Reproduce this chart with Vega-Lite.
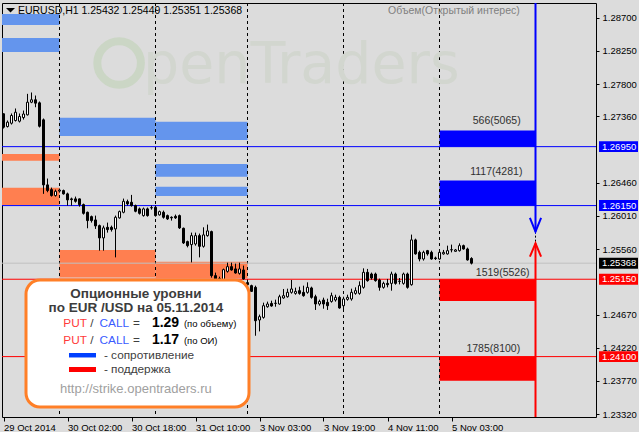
{
  "$schema": "https://vega.github.io/schema/vega-lite/v6.json",
  "width": 594,
  "height": 414,
  "autosize": {"type": "none"},
  "padding": {"left": 2, "top": 3, "right": 43, "bottom": 15},
  "background": "#dcdcdc",
  "config": {
    "view": {"stroke": "black", "strokeWidth": 1, "fill": "#dcdcdc"},
    "font": "Liberation Sans",
    "text": {"font": "Liberation Sans"}
  },
  "resolve": {"scale": {"color": "independent"}, "axis": {"x": "independent", "y": "independent"}},
  "datasets": {
    "candles": [
      {"i":0,"o":1.27396,"h":1.274,"l":1.27196,"c":1.27214},
      {"i":1,"o":1.27223,"h":1.27305,"l":1.2721,"c":1.27282},
      {"i":2,"o":1.27268,"h":1.274,"l":1.2725,"c":1.27373},
      {"i":3,"o":1.27305,"h":1.27468,"l":1.27291,"c":1.27417},
      {"i":4,"o":1.27295,"h":1.274,"l":1.27278,"c":1.27359},
      {"i":5,"o":1.27345,"h":1.2744,"l":1.27318,"c":1.27393},
      {"i":6,"o":1.27382,"h":1.27667,"l":1.27373,"c":1.27553},
      {"i":7,"o":1.27553,"h":1.27685,"l":1.2754,"c":1.27586},
      {"i":8,"o":1.27586,"h":1.27644,"l":1.27485,"c":1.2754},
      {"i":9,"o":1.27545,"h":1.27563,"l":1.2721,"c":1.27227},
      {"i":10,"o":1.27314,"h":1.27332,"l":1.26309,"c":1.26431},
      {"i":11,"o":1.26431,"h":1.26517,"l":1.26331,"c":1.26354},
      {"i":12,"o":1.26367,"h":1.26394,"l":1.26272,"c":1.26286},
      {"i":13,"o":1.26286,"h":1.26367,"l":1.26272,"c":1.26344},
      {"i":14,"o":1.26347,"h":1.26381,"l":1.26326,"c":1.2636},
      {"i":15,"o":1.26354,"h":1.26367,"l":1.26299,"c":1.26309},
      {"i":16,"o":1.26309,"h":1.26326,"l":1.2615,"c":1.26227},
      {"i":17,"o":1.26241,"h":1.26258,"l":1.2615,"c":1.26231},
      {"i":18,"o":1.26241,"h":1.26272,"l":1.2619,"c":1.26208},
      {"i":19,"o":1.26241,"h":1.26245,"l":1.26136,"c":1.26163},
      {"i":20,"o":1.26163,"h":1.26177,"l":1.26028,"c":1.26045},
      {"i":21,"o":1.26059,"h":1.26068,"l":1.25842,"c":1.25946},
      {"i":22,"o":1.26,"h":1.26014,"l":1.25919,"c":1.25946},
      {"i":23,"o":1.25955,"h":1.26014,"l":1.25833,"c":1.25874},
      {"i":24,"o":1.25878,"h":1.25892,"l":1.25538,"c":1.25711},
      {"i":25,"o":1.25711,"h":1.25878,"l":1.25538,"c":1.25847},
      {"i":26,"o":1.25855,"h":1.25919,"l":1.25783,"c":1.25824},
      {"i":27,"o":1.25855,"h":1.25878,"l":1.25797,"c":1.25824},
      {"i":28,"o":1.25833,"h":1.26014,"l":1.25447,"c":1.25991},
      {"i":29,"o":1.25983,"h":1.26082,"l":1.25973,"c":1.26068},
      {"i":30,"o":1.26059,"h":1.26245,"l":1.26045,"c":1.26208},
      {"i":31,"o":1.26204,"h":1.26231,"l":1.2615,"c":1.26173},
      {"i":32,"o":1.26195,"h":1.26295,"l":1.26136,"c":1.2615},
      {"i":33,"o":1.2615,"h":1.26163,"l":1.26059,"c":1.26073},
      {"i":34,"o":1.26105,"h":1.26123,"l":1.26028,"c":1.26045},
      {"i":35,"o":1.26014,"h":1.26123,"l":1.26,"c":1.26105},
      {"i":36,"o":1.26105,"h":1.26123,"l":1.26,"c":1.26014},
      {"i":37,"o":1.26119,"h":1.2615,"l":1.26095,"c":1.26123},
      {"i":38,"o":1.26127,"h":1.2615,"l":1.26,"c":1.26014},
      {"i":39,"o":1.26024,"h":1.26082,"l":1.26014,"c":1.26068},
      {"i":40,"o":1.26059,"h":1.26082,"l":1.25973,"c":1.25991},
      {"i":41,"o":1.26014,"h":1.26028,"l":1.25955,"c":1.25969},
      {"i":42,"o":1.25991,"h":1.26004,"l":1.25946,"c":1.25983},
      {"i":43,"o":1.26004,"h":1.26028,"l":1.25969,"c":1.25983},
      {"i":44,"o":1.26014,"h":1.26028,"l":1.25833,"c":1.25847},
      {"i":45,"o":1.25842,"h":1.25851,"l":1.25629,"c":1.25643},
      {"i":46,"o":1.25661,"h":1.25674,"l":1.25583,"c":1.25606},
      {"i":47,"o":1.2562,"h":1.25783,"l":1.25379,"c":1.25742},
      {"i":48,"o":1.25629,"h":1.25783,"l":1.25606,"c":1.25742},
      {"i":49,"o":1.25742,"h":1.2577,"l":1.25447,"c":1.25597},
      {"i":50,"o":1.25597,"h":1.25855,"l":1.25579,"c":1.25752},
      {"i":51,"o":1.25742,"h":1.25892,"l":1.25728,"c":1.25806},
      {"i":52,"o":1.25797,"h":1.2581,"l":1.25172,"c":1.25199},
      {"i":53,"o":1.25199,"h":1.2524,"l":1.25131,"c":1.25154},
      {"i":54,"o":1.25158,"h":1.25185,"l":1.25117,"c":1.25131},
      {"i":55,"o":1.25131,"h":1.25294,"l":1.25117,"c":1.2528},
      {"i":56,"o":1.25257,"h":1.25375,"l":1.2524,"c":1.25321},
      {"i":57,"o":1.25321,"h":1.25375,"l":1.25267,"c":1.25276},
      {"i":58,"o":1.2529,"h":1.25362,"l":1.25226,"c":1.25235},
      {"i":59,"o":1.2523,"h":1.25375,"l":1.25213,"c":1.2529},
      {"i":60,"o":1.25276,"h":1.25335,"l":1.25145,"c":1.25154},
      {"i":61,"o":1.25104,"h":1.25117,"l":1.25063,"c":1.25076},
      {"i":62,"o":1.25063,"h":1.25076,"l":1.24981,"c":1.24985},
      {"i":63,"o":1.2504,"h":1.25063,"l":1.24383,"c":1.24587},
      {"i":64,"o":1.24597,"h":1.2467,"l":1.24442,"c":1.24642},
      {"i":65,"o":1.24632,"h":1.24832,"l":1.24615,"c":1.24791},
      {"i":66,"o":1.24777,"h":1.24846,"l":1.24764,"c":1.24814},
      {"i":67,"o":1.24822,"h":1.24859,"l":1.24777,"c":1.24787},
      {"i":68,"o":1.24822,"h":1.24873,"l":1.24777,"c":1.24825},
      {"i":69,"o":1.24814,"h":1.2494,"l":1.24805,"c":1.24913},
      {"i":70,"o":1.24896,"h":1.25018,"l":1.24886,"c":1.24927},
      {"i":71,"o":1.24913,"h":1.25022,"l":1.249,"c":1.24972},
      {"i":72,"o":1.24972,"h":1.2514,"l":1.24954,"c":1.25018},
      {"i":73,"o":1.24958,"h":1.25036,"l":1.2494,"c":1.24985},
      {"i":74,"o":1.24995,"h":1.25049,"l":1.2494,"c":1.24958},
      {"i":75,"o":1.24972,"h":1.25063,"l":1.24913,"c":1.24927},
      {"i":76,"o":1.24972,"h":1.25108,"l":1.24954,"c":1.2504},
      {"i":77,"o":1.25032,"h":1.25049,"l":1.24886,"c":1.24904},
      {"i":78,"o":1.24913,"h":1.2494,"l":1.24733,"c":1.24814},
      {"i":79,"o":1.24814,"h":1.24873,"l":1.24791,"c":1.24849},
      {"i":80,"o":1.24868,"h":1.249,"l":1.2475,"c":1.24814},
      {"i":81,"o":1.24836,"h":1.24886,"l":1.24733,"c":1.24791},
      {"i":82,"o":1.24849,"h":1.24968,"l":1.24832,"c":1.24927},
      {"i":83,"o":1.24868,"h":1.2494,"l":1.24846,"c":1.24904},
      {"i":84,"o":1.24904,"h":1.24927,"l":1.2475,"c":1.2476},
      {"i":85,"o":1.24791,"h":1.24913,"l":1.24723,"c":1.24882},
      {"i":86,"o":1.24877,"h":1.2494,"l":1.24859,"c":1.24904},
      {"i":87,"o":1.24882,"h":1.25022,"l":1.24859,"c":1.24972},
      {"i":88,"o":1.24958,"h":1.2504,"l":1.2494,"c":1.24995},
      {"i":89,"o":1.24958,"h":1.25121,"l":1.2494,"c":1.25063},
      {"i":90,"o":1.2504,"h":1.25298,"l":1.25022,"c":1.25244},
      {"i":91,"o":1.25244,"h":1.2529,"l":1.25117,"c":1.25131},
      {"i":92,"o":1.25221,"h":1.2524,"l":1.25145,"c":1.25167},
      {"i":93,"o":1.25221,"h":1.2524,"l":1.25117,"c":1.25131},
      {"i":94,"o":1.2514,"h":1.25158,"l":1.24995,"c":1.2504},
      {"i":95,"o":1.2504,"h":1.25117,"l":1.25022,"c":1.25094},
      {"i":96,"o":1.25094,"h":1.25154,"l":1.2504,"c":1.25076},
      {"i":97,"o":1.25094,"h":1.25253,"l":1.24995,"c":1.25221},
      {"i":98,"o":1.25221,"h":1.2524,"l":1.25076,"c":1.25094},
      {"i":99,"o":1.25121,"h":1.25167,"l":1.2508,"c":1.25124},
      {"i":100,"o":1.25094,"h":1.2524,"l":1.25076,"c":1.25221},
      {"i":101,"o":1.25221,"h":1.2524,"l":1.25022,"c":1.2504},
      {"i":102,"o":1.25076,"h":1.25756,"l":1.25063,"c":1.25684},
      {"i":103,"o":1.25684,"h":1.25701,"l":1.25484,"c":1.25494},
      {"i":104,"o":1.25515,"h":1.25538,"l":1.25393,"c":1.25425},
      {"i":105,"o":1.25425,"h":1.25538,"l":1.25403,"c":1.25515},
      {"i":106,"o":1.25538,"h":1.25548,"l":1.25471,"c":1.25494},
      {"i":107,"o":1.25515,"h":1.25538,"l":1.25416,"c":1.25425},
      {"i":108,"o":1.25439,"h":1.25457,"l":1.25412,"c":1.2543},
      {"i":109,"o":1.25425,"h":1.25538,"l":1.25416,"c":1.25515},
      {"i":110,"o":1.25494,"h":1.25548,"l":1.25484,"c":1.25515},
      {"i":111,"o":1.25494,"h":1.25606,"l":1.25484,"c":1.25538},
      {"i":112,"o":1.25548,"h":1.2562,"l":1.25515,"c":1.25552},
      {"i":113,"o":1.25529,"h":1.25561,"l":1.25525,"c":1.25548},
      {"i":114,"o":1.25538,"h":1.25637,"l":1.25525,"c":1.25606},
      {"i":115,"o":1.25606,"h":1.2562,"l":1.25552,"c":1.25561},
      {"i":116,"o":1.25561,"h":1.25579,"l":1.25403,"c":1.25412},
      {"i":117,"o":1.25432,"h":1.25449,"l":1.25351,"c":1.25368}
    ],
    "zones": [
      {"x1":-0.375,"x2":14,"p1":1.28751,"p2":1.28602,"k":"res"},
      {"x1":-0.375,"x2":14,"p1":1.28425,"p2":1.28235,"k":"res"},
      {"x1":-0.375,"x2":14,"p1":1.26851,"p2":1.2676,"k":"sup"},
      {"x1":-0.375,"x2":14,"p1":1.26393,"p2":1.26158,"k":"sup"},
      {"x1":14,"x2":38,"p1":1.27343,"p2":1.27095,"k":"res"},
      {"x1":14,"x2":38,"p1":1.25547,"p2":1.25174,"k":"sup"},
      {"x1":38,"x2":61,"p1":1.27289,"p2":1.27041,"k":"res"},
      {"x1":38,"x2":61,"p1":1.26715,"p2":1.26542,"k":"res"},
      {"x1":38,"x2":61,"p1":1.26407,"p2":1.2628,"k":"res"},
      {"x1":38,"x2":61,"p1":1.25388,"p2":1.25163,"k":"sup"},
      {"x1":109,"x2":133,"p1":1.2717,"p2":1.2695,"k":"res5"},
      {"x1":109,"x2":133,"p1":1.2649,"p2":1.2615,"k":"res5"},
      {"x1":109,"x2":133,"p1":1.2515,"p2":1.24855,"k":"sup5"},
      {"x1":109,"x2":133,"p1":1.241,"p2":1.23773,"k":"sup5"}
    ]
  },
  "layer": [
    {
      "data": {"name": "zones"},
      "mark": {"type": "rect"},
      "encoding": {
        "x": {"field": "x1", "type": "quantitative",
          "scale": {"domain": [-0.375, 148.125], "nice": false, "zero": false, "padding": 0},
          "axis": {"orient": "bottom", "values": [0, 16, 32, 48, 64, 80, 96, 112], "title": null, "domain": false, "grid": false,
            "labelExpr": "datum.value==0?'29 Oct 2014':datum.value==16?'30 Oct 02:00':datum.value==32?'30 Oct 18:00':datum.value==48?'31 Oct 10:00':datum.value==64?'3 Nov 03:00':datum.value==80?'3 Nov 19:00':datum.value==96?'4 Nov 11:00':'5 Nov 03:00'",
            "labelAlign": "left", "labelBaseline": "top", "labelPadding": 1, "labelDx": 1, "tickSize": 4, "tickColor": "black",
            "labelColor": "black", "labelFont": "Liberation Sans", "labelFontSize": 9.5, "labelOverlap": false, "labelBound": false, "labelFlush": false}},
        "x2": {"field": "x2"},
        "y": {"field": "p1", "type": "quantitative",
          "scale": {"domain": [1.2328, 1.289], "nice": false, "zero": false, "padding": 0},
          "axis": {"orient": "right", "values": [1.287, 1.2825, 1.278, 1.2736, 1.2646, 1.2601, 1.2556, 1.2467, 1.2422, 1.2377, 1.2332],
            "format": ".5f", "title": null, "domain": false, "grid": false, "tickSize": 3, "tickColor": "black", "labelPadding": 3,
            "labelColor": "black", "labelFont": "Liberation Sans", "labelFontSize": 9.5, "labelOverlap": false, "labelBound": false, "labelFlush": false, "labelBaseline": "middle"}},
        "y2": {"field": "p2"},
        "color": {"field": "k", "type": "nominal", "legend": null,
          "scale": {"domain": ["res", "sup", "res5", "sup5"], "range": ["#6495ed", "#ff7f50", "#0000ff", "#ff0000"]}}
      }
    },
    {
      "data": {"values": [{"i": 14}, {"i": 38}, {"i": 61}, {"i": 85}, {"i": 109}]},
      "mark": {"type": "rule", "color": "black", "strokeWidth": 1, "strokeDash": [3, 3]},
      "encoding": {"x": {"field": "i", "type": "quantitative", "axis": null}}
    },
    {
      "data": {"values": [{"p": 1.2695, "k": "res"}, {"p": 1.2615, "k": "res"}, {"p": 1.2515, "k": "sup"}, {"p": 1.241, "k": "sup"}, {"p": 1.25368, "k": "bid"}]},
      "mark": {"type": "rule", "strokeWidth": 1},
      "encoding": {
        "y": {"field": "p", "type": "quantitative", "axis": null},
        "color": {"field": "k", "type": "nominal", "legend": null,
          "scale": {"domain": ["res", "sup", "bid"], "range": ["#0000ff", "#ff0000", "#c0c0c0"]}}
      }
    },
    {
      "data": {"values": [{"t": "penTraders", "i": 34.9, "p": 1.27812}]},
      "mark": {"type": "text", "font": "DejaVu Sans", "fontSize": 57, "color": "#d2d6cf", "align": "left", "baseline": "alphabetic"},
      "encoding": {
        "x": {"field": "i", "type": "quantitative", "axis": null},
        "y": {"field": "p", "type": "quantitative", "axis": null},
        "text": {"field": "t"}
      }
    },
    {
      "data": {"values": [{"i": 28.9, "p": 1.28085}]},
      "mark": {"type": "point", "shape": "circle", "size": 1900, "filled": false, "stroke": "#cbd6c5", "strokeWidth": 8, "opacity": 1},
      "encoding": {
        "x": {"field": "i", "type": "quantitative", "axis": null},
        "y": {"field": "p", "type": "quantitative", "axis": null}
      }
    },
    {
      "data": {"name": "candles"},
      "mark": {"type": "rule", "color": "black", "strokeWidth": 1},
      "encoding": {
        "x": {"field": "i", "type": "quantitative", "axis": null},
        "y": {"field": "l", "type": "quantitative", "axis": null},
        "y2": {"field": "h"}
      }
    },
    {
      "data": {"name": "candles"},
      "mark": {"type": "bar", "size": 2, "stroke": "black", "strokeWidth": 1},
      "encoding": {
        "x": {"field": "i", "type": "quantitative", "axis": null},
        "y": {"field": "o", "type": "quantitative", "axis": null},
        "y2": {"field": "c"},
        "color": {"condition": {"test": "datum.c > datum.o", "value": "white"}, "value": "black"}
      }
    },
    {
      "data": {"values": [{"i": 133, "a": 1.2890, "b": 1.25796, "k": "b"}, {"i": 133, "a": 1.25638, "b": 1.2328, "k": "r"}]},
      "mark": {"type": "rule", "strokeWidth": 2},
      "encoding": {
        "x": {"field": "i", "type": "quantitative", "axis": null},
        "y": {"field": "a", "type": "quantitative", "axis": null},
        "y2": {"field": "b"},
        "color": {"field": "k", "type": "nominal", "legend": null, "scale": {"domain": ["b", "r"], "range": ["#0000ff", "#ff0000"]}}
      }
    },
    {
      "data": {"values": [{"i": 133, "a": 1.25796, "b": 1.25638}]},
      "mark": {"type": "rule", "strokeWidth": 1, "color": "black", "strokeDash": [2, 2]},
      "encoding": {
        "x": {"field": "i", "type": "quantitative", "axis": null},
        "y": {"field": "a", "type": "quantitative", "axis": null},
        "y2": {"field": "b"}
      }
    },
    {
      "data": {"values": [
        {"g": "b", "o": 0, "i": 131.6, "p": 1.25982},
        {"g": "b", "o": 1, "i": 133, "p": 1.25796},
        {"g": "b", "o": 2, "i": 134.4, "p": 1.25982},
        {"g": "r", "o": 0, "i": 131.6, "p": 1.25456},
        {"g": "r", "o": 1, "i": 133, "p": 1.25638},
        {"g": "r", "o": 2, "i": 134.4, "p": 1.25456}
      ]},
      "mark": {"type": "line", "strokeWidth": 2},
      "encoding": {
        "x": {"field": "i", "type": "quantitative", "axis": null},
        "y": {"field": "p", "type": "quantitative", "axis": null},
        "order": {"field": "o"},
        "detail": {"field": "g"},
        "color": {"field": "g", "type": "nominal", "legend": null, "scale": {"domain": ["b", "r"], "range": ["#0000ff", "#ff0000"]}}
      }
    },
    {
      "data": {"values": [
        {"t": "566(5065)", "i": 123.3, "p": 1.27302},
        {"t": "1117(4281)", "i": 123.2, "p": 1.26606},
        {"t": "1519(5526)", "i": 124.8, "p": 1.25235},
        {"t": "1785(8100)", "i": 122.45, "p": 1.24204}
      ]},
      "mark": {"type": "text", "fontSize": 10.5, "color": "#303030", "align": "center", "baseline": "middle"},
      "encoding": {
        "x": {"field": "i", "type": "quantitative", "axis": null},
        "y": {"field": "p", "type": "quantitative", "axis": null},
        "text": {"field": "t"}
      }
    },
    {
      "data": {"values": [{"t": "EURUSD,H1  1.25432 1.25449 1.25351 1.25368", "i": 3.6, "p": 1.28792}]},
      "mark": {"type": "text", "fontSize": 10.5, "color": "black", "align": "left", "baseline": "middle"},
      "encoding": {
        "x": {"field": "i", "type": "quantitative", "axis": null},
        "y": {"field": "p", "type": "quantitative", "axis": null},
        "text": {"field": "t"}
      }
    },
    {
      "data": {"values": [{"i": 1.75, "p": 1.28805}]},
      "mark": {"type": "point", "shape": "M-1,-0.45 L1,-0.45 L0,0.55 Z", "size": 81, "filled": true, "color": "black", "opacity": 1},
      "encoding": {
        "x": {"field": "i", "type": "quantitative", "axis": null},
        "y": {"field": "p", "type": "quantitative", "axis": null}
      }
    },
    {
      "data": {"values": [{"t": "Объем(Открытый интерес)", "i": 112.6, "p": 1.28792}]},
      "mark": {"type": "text", "fontSize": 10.5, "color": "#808080", "align": "center", "baseline": "middle"},
      "encoding": {
        "x": {"field": "i", "type": "quantitative", "axis": null},
        "y": {"field": "p", "type": "quantitative", "axis": null},
        "text": {"field": "t"}
      }
    },
    {
      "data": {"values": [{"a": 5.625, "b": 61.375, "p1": 1.2514, "p2": 1.23416}]},
      "mark": {"type": "rect", "fill": "white", "stroke": "#ff7f27", "strokeWidth": 3, "cornerRadius": 14},
      "encoding": {
        "x": {"field": "a", "type": "quantitative", "axis": null},
        "x2": {"field": "b"},
        "y": {"field": "p1", "type": "quantitative", "axis": null},
        "y2": {"field": "p2"}
      }
    },
    {
      "data": {"values": [
        {"t": "Опционные уровни", "i": 33.1, "p": 1.2495},
        {"t": "по EUR /USD на 05.11.2014", "i": 33.1, "p": 1.24753}
      ]},
      "mark": {"type": "text", "fontSize": 13.5, "fontWeight": "bold", "color": "#3c3c3c", "align": "center", "baseline": "middle"},
      "encoding": {
        "x": {"field": "i", "type": "quantitative", "axis": null},
        "y": {"field": "p", "type": "quantitative", "axis": null},
        "text": {"field": "t"}
      }
    },
    {
      "data": {"values": [
        {"t": "PUT", "i": 14.95, "p": 1.2455, "k": "put"},
        {"t": "/", "i": 21.7, "p": 1.2455, "k": "sym"},
        {"t": "CALL", "i": 24.0, "p": 1.2455, "k": "call"},
        {"t": "=", "i": 32.4, "p": 1.2455, "k": "sym"},
        {"t": "PUT", "i": 14.95, "p": 1.24332, "k": "put"},
        {"t": "/", "i": 21.7, "p": 1.24332, "k": "sym"},
        {"t": "CALL", "i": 24.0, "p": 1.24332, "k": "call"},
        {"t": "=", "i": 32.4, "p": 1.24332, "k": "sym"}
      ]},
      "mark": {"type": "text", "fontSize": 11.8, "align": "left", "baseline": "middle"},
      "encoding": {
        "x": {"field": "i", "type": "quantitative", "axis": null},
        "y": {"field": "p", "type": "quantitative", "axis": null},
        "text": {"field": "t"},
        "color": {"field": "k", "type": "nominal", "legend": null, "scale": {"domain": ["put", "sym", "call"], "range": ["#ff3a3a", "#404040", "#3a5cff"]}}
      }
    },
    {
      "data": {"values": [
        {"t": "1.29", "i": 37.1, "p": 1.2455},
        {"t": "1.17", "i": 37.1, "p": 1.24332}
      ]},
      "mark": {"type": "text", "fontSize": 14, "fontWeight": "bold", "color": "#000000", "align": "left", "baseline": "middle"},
      "encoding": {
        "x": {"field": "i", "type": "quantitative", "axis": null},
        "y": {"field": "p", "type": "quantitative", "axis": null},
        "text": {"field": "t"}
      }
    },
    {
      "data": {"values": [
        {"t": "(по объему)", "i": 45.1, "p": 1.24536},
        {"t": "(по ОИ)", "i": 45.1, "p": 1.24318}
      ]},
      "mark": {"type": "text", "fontSize": 9.5, "color": "#000000", "align": "left", "baseline": "middle"},
      "encoding": {
        "x": {"field": "i", "type": "quantitative", "axis": null},
        "y": {"field": "p", "type": "quantitative", "axis": null},
        "text": {"field": "t"}
      }
    },
    {
      "data": {"values": [
        {"a": 16.375, "b": 23.125, "p1": 1.24149, "p2": 1.24088, "k": "b"},
        {"a": 16.375, "b": 23.125, "p1": 1.23959, "p2": 1.23891, "k": "r"}
      ]},
      "mark": {"type": "rect"},
      "encoding": {
        "x": {"field": "a", "type": "quantitative", "axis": null},
        "x2": {"field": "b"},
        "y": {"field": "p1", "type": "quantitative", "axis": null},
        "y2": {"field": "p2"},
        "color": {"field": "k", "type": "nominal", "legend": null, "scale": {"domain": ["b", "r"], "range": ["#0040ff", "#ff0000"]}}
      }
    },
    {
      "data": {"values": [
        {"t": "- сопротивление", "i": 25.1, "p": 1.24122},
        {"t": "- поддержка", "i": 25.1, "p": 1.23925}
      ]},
      "mark": {"type": "text", "fontSize": 11.8, "color": "#404040", "align": "left", "baseline": "middle"},
      "encoding": {
        "x": {"field": "i", "type": "quantitative", "axis": null},
        "y": {"field": "p", "type": "quantitative", "axis": null},
        "text": {"field": "t"}
      }
    },
    {
      "data": {"values": [{"t": "http://strike.opentraders.ru", "i": 33.1, "p": 1.2366}]},
      "mark": {"type": "text", "fontSize": 13, "color": "#a0a0a0", "align": "center", "baseline": "middle"},
      "encoding": {
        "x": {"field": "i", "type": "quantitative", "axis": null},
        "y": {"field": "p", "type": "quantitative", "axis": null},
        "text": {"field": "t"}
      }
    },
    {
      "data": {"values": [
        {"p": 1.2695, "k": "res"}, {"p": 1.2615, "k": "res"}, {"p": 1.25368, "k": "bid"}, {"p": 1.2515, "k": "sup"}, {"p": 1.241, "k": "sup"}
      ]},
      "mark": {"type": "point", "shape": "M0,-0.28 L2,-0.28 L2,0.28 L0,0.28 Z", "size": 1521, "filled": true, "opacity": 1},
      "encoding": {
        "x": {"datum": 148.875, "type": "quantitative", "axis": null},
        "y": {"field": "p", "type": "quantitative", "axis": null},
        "color": {"field": "k", "type": "nominal", "legend": null, "scale": {"domain": ["res", "sup", "bid"], "range": ["#0000ff", "#ff0000", "#000000"]}}
      }
    },
    {
      "data": {"values": [
        {"p": 1.2695}, {"p": 1.2615}, {"p": 1.25368}, {"p": 1.2515}, {"p": 1.241}
      ]},
      "mark": {"type": "text", "fontSize": 9.5, "color": "white", "align": "left", "baseline": "middle"},
      "encoding": {
        "x": {"datum": 149.6, "type": "quantitative", "axis": null},
        "y": {"field": "p", "type": "quantitative", "axis": null},
        "text": {"field": "p", "format": ".5f"}
      }
    }
  ]
}
